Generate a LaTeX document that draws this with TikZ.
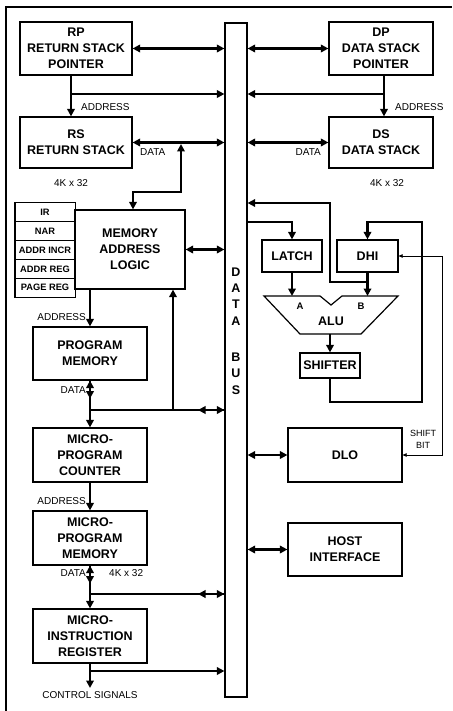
\documentclass[tikz,border=0pt]{standalone}
\usepackage{fontspec}
\setmainfont{Liberation Sans}
\usetikzlibrary{arrows.meta}
\begin{document}
\begin{tikzpicture}[x=1pt,y=-1pt,
  blk/.style={draw, line width=1.2pt, inner sep=0pt, align=center, font=\bfseries\fontsize{12.5}{16}\selectfont},
  reg/.style={draw, line width=1pt, minimum width=60pt, minimum height=18.8pt, inner sep=0pt, font=\bfseries\fontsize{9.3}{10}\selectfont},
  lbl/.style={font=\fontsize{10}{12}\selectfont, inner sep=0pt},
  conn/.style={line width=2.9pt},
  arr/.style={conn, -{Triangle[length=7.5pt,width=7.5pt]}},
  darr/.style={conn, {Triangle[length=7.5pt,width=7.5pt]}-{Triangle[length=7.5pt,width=7.5pt]}},
  thinarr/.style={line width=0.7pt, {Triangle[length=4pt,width=3.5pt]}-{Triangle[length=4pt,width=3.5pt]}}
]
\useasboundingbox (0,0) rectangle (452,711);
% frame
\draw[line width=1.4pt] (6,711) -- (6,7) -- (452,7);

% data bus
\node[draw, line width=1.2pt, minimum width=22pt, minimum height=674pt, inner sep=0pt] (bus) at (236,360) {};
\node[font=\bfseries\fontsize{12.5}{16.3}\selectfont, align=center, inner sep=0pt] (buslbl) at (236,331) {D\\A\\T\\A\\[20pt]B\\U\\S};

% left column boxes
\node[blk, minimum width=112pt, minimum height=53pt] (rp) at (76,48.5) {RP\\RETURN STACK\\POINTER};
\node[blk, minimum width=112pt, minimum height=51pt] (rs) at (76,142.5) {RS\\RETURN STACK};
\node[blk, minimum width=110pt, minimum height=79pt] (mal) at (130,249.5) {MEMORY\\ADDRESS\\LOGIC};
\node[reg] (ir) at (45,212.4) {IR};
\node[reg] (nar) at (45,231.2) {NAR};
\node[reg] (aincr) at (45,250) {ADDR INCR};
\node[reg] (areg) at (45,268.8) {ADDR REG};
\node[reg] (preg) at (45,287.6) {PAGE REG};
\draw[line width=1.4pt] (ir.north west) rectangle (preg.south east);
\node[blk, minimum width=114pt, minimum height=53pt] (pm) at (90,353.5) {PROGRAM\\MEMORY};
\node[blk, minimum width=114pt, minimum height=54pt] (upc) at (90,455) {MICRO-\\PROGRAM\\COUNTER};
\node[blk, minimum width=114pt, minimum height=54pt] (upm) at (90,538) {MICRO-\\PROGRAM\\MEMORY};
\node[blk, minimum width=114pt, minimum height=54pt] (uir) at (90,636) {MICRO-\\INSTRUCTION\\REGISTER};

% right column boxes
\node[blk, minimum width=104pt, minimum height=53pt] (dp) at (381,48.5) {DP\\DATA STACK\\POINTER};
\node[blk, minimum width=104pt, minimum height=51pt] (ds) at (381,142.5) {DS\\DATA STACK};
\node[blk, minimum width=60pt, minimum height=32pt] (latch) at (292,256) {LATCH};
\node[blk, minimum width=61pt, minimum height=32pt] (dhi) at (367.5,256) {DHI};
\node[blk, minimum width=60pt, minimum height=25pt] (shifter) at (330,365.5) {SHIFTER};
\node[blk, minimum width=114pt, minimum height=54pt] (dlo) at (345,455) {DLO};
\node[blk, minimum width=114pt, minimum height=53pt] (host) at (345,549.5) {HOST\\INTERFACE};

% ALU
\draw[line width=1.2pt] (264,296) -- (320,296) -- (331,305) -- (342,296) -- (398,296) -- (361,334) -- (300,334) -- cycle;
\node[font=\bfseries\fontsize{9.5}{11}\selectfont, inner sep=0pt] (alua) at (300,306) {A};
\node[font=\bfseries\fontsize{9.5}{11}\selectfont, inner sep=0pt] (alub) at (361,306) {B};
\node[font=\bfseries\fontsize{12.5}{14}\selectfont, inner sep=0pt] (alu) at (331,321) {ALU};
\coordinate (aluina) at (292,296);
\coordinate (aluinb) at (367.5,296);
\coordinate (aluout) at (330,334);

% labels
\node[lbl, anchor=west] (l1) at (81,107) {ADDRESS};
\node[lbl, anchor=west] (l2) at (140,152) {DATA};
\node[lbl] (l3) at (71,183) {4K x 32};
\node[lbl, anchor=west] (l4) at (395,107) {ADDRESS};
\node[lbl, anchor=east] (l5) at (321,152) {DATA};
\node[lbl] (l6) at (387,183) {4K x 32};
\node[lbl, anchor=east] (l7) at (86,317) {ADDRESS};
\node[lbl, anchor=east] (l8) at (86,390) {DATA};
\node[lbl, anchor=east] (l9) at (86,501) {ADDRESS};
\node[lbl, anchor=east] (l10) at (86,573) {DATA};
\node[lbl, anchor=west] (l11) at (109,573) {4K x 32};
\node[lbl] (l12) at (90,695) {CONTROL SIGNALS};
\node[font=\fontsize{9}{12}\selectfont, align=center, inner sep=0pt] (l13) at (423,439.5) {SHIFT\\BIT};

% left connectors
\draw[darr] (rp.east) -- (rp.east -| bus.west);
\coordinate (rpd) at (71,75);
\coordinate (rpj) at (71,94);
\draw[arr] (rpd) -- (rpd |- rs.north);
\draw[arr] (rpj) -- (rpj -| bus.west);
\draw[darr] (rs.east) -- (rs.east -| bus.west);
\coordinate (m1) at (181,144);
\coordinate (m2) at (133,192);
\draw[darr] (m1) |- (m2) -- (m2 |- mal.north);
\draw[darr] (mal.east) -- (mal.east -| bus.west);
\draw[arr] (mal.south -| pm.north) -- (pm.north);
\draw[arr] (pm.south) -- (upc.north);
\draw[darr] (pm.south) -- ++(0,18);
\coordinate (pmj) at (90,410);
\draw[conn] (pmj) -- (pmj -| bus.west);
\draw[darr] (pmj -| 198,0) -- (pmj -| bus.west);
\coordinate (malin) at (173,410);
\draw[arr] (malin) -- (malin |- mal.south);
\draw[arr] (upc.south) -- (upm.north);
\draw[arr] (upm.south) -- (uir.north);
\draw[darr] (upm.south) -- ++(0,18);
\coordinate (upmj) at (90,594);
\draw[conn] (upmj) -- (upmj -| bus.west);
\draw[darr] (upmj -| 198,0) -- (upmj -| bus.west);
\coordinate (cs) at (90,688);
\draw[arr] (uir.south) -- (cs);
\coordinate (uirj) at (90,671);
\draw[arr] (uirj) -- (uirj -| bus.west);

% right connectors
\draw[darr] (dp.east -| bus.east) -- (dp.west);
\coordinate (dpd) at (384,75);
\coordinate (dpj) at (384,94);
\draw[arr] (dpd) -- (dpd |- ds.north);
\draw[arr] (dpj) -- (dpj -| bus.east);
\draw[darr] (ds.west -| bus.east) -- (ds.west);
\coordinate (fb1) at (368,282);
\draw[arr] (fb1) -- (330,282) -- (330,203) -- (bus.east |- 0,203);
\coordinate (lt) at (247,222);
\draw[arr] (lt) -| (latch.north);
\draw[arr] (latch.south) -- (aluina);
\draw[arr] (dhi.south) -- (aluinb);
\draw[arr] (aluout) -- (shifter.north);
\draw[arr] (shifter.south) -- (330,402) -- (422,402) -- (422,222) -- (dhi.north |- 0,222) -- (dhi.north);
\draw[thinarr] (dhi.east) -- (442,256) -- (442,455) -- (dlo.east);
\draw[darr] (dlo.west -| bus.east) -- (dlo.west);
\draw[darr] (host.west -| bus.east) -- (host.west);
\end{tikzpicture}
\end{document}
